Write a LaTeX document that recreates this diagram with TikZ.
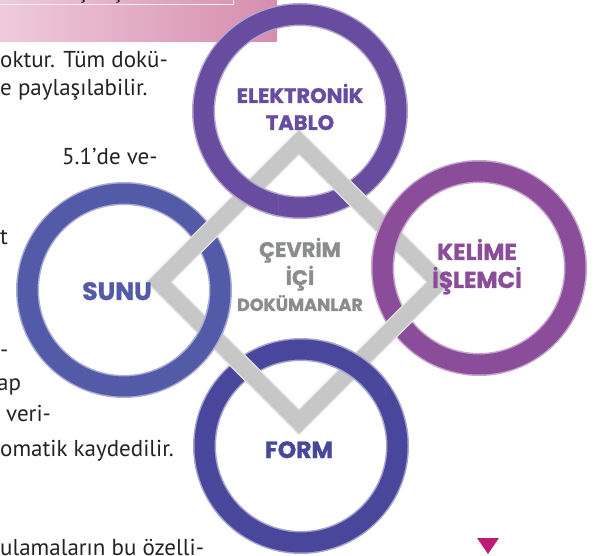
\documentclass[tikz,border=0pt]{standalone}
\usepackage{fontspec}
\setmainfont{PT Sans}
\newfontfamily\baslikfont{Poppins}[BoldFeatures={FakeBold=1.3}]

\definecolor{tablorenk}{HTML}{674C9F}
\definecolor{kelimerenk}{HTML}{8B4C9A}
\definecolor{sunurenk}{HTML}{535AA7}
\definecolor{formrenk}{HTML}{49479C}
\definecolor{bantrenk}{HTML}{C6C7C6}
\definecolor{bantkenar}{HTML}{E2E3E2}
\definecolor{merkezrenk}{HTML}{8B8D8D}
\definecolor{metinrenk}{HTML}{262223}
\definecolor{pembe1}{HTML}{EFCADC}
\definecolor{pembe2}{HTML}{D68DAE}
\definecolor{ucgenrenk}{HTML}{BD1A77}

\tikzset{
    halka/.style={circle, minimum size=193pt, inner sep=0pt, draw=#1!50!white, double=#1, double distance=20pt, line width=1.5pt},
    bant/.style={draw=bantkenar, double=bantrenk, double distance=16pt, line width=1.5pt, line join=miter},
    etiket/.style 2 args={anchor=base, inner sep=0pt, text=#1, font=\baslikfont\bfseries\fontsize{#2}{#2}\selectfont},
    metin/.style={anchor=base west, inner sep=0pt, text=metinrenk, font=\fontsize{23}{27}\selectfont}
}

\begin{document}
\begin{tikzpicture}[x=1pt, y=-1pt]
    % Sayfa sinirlari
    \useasboundingbox (0,0) rectangle (595,556);
    \clip (0,0) rectangle (595,556);

    % Pembe baslik seridi (sayfanin ust kismi)
    \shade[left color=pembe1, right color=pembe2] (0,0) rectangle (277,42);
    \draw[white!70!pembe1, line width=0.8pt] (-5,-5) rectangle (233,4);
    \node[metin, anchor=base] (cedilla1) at (83,-1) {ş};
    \node[metin, anchor=base] (cedilla2) at (118,-1) {ş};

    % Diyagramin solundaki sayfa metni
    \foreach \satir/\x/\y [count=\i] in {
        oktur. Tüm dokü-/0/68, e paylaşılabilir./0/96, 5.1’de ve-/62/165,
        t/0/245, -/0/358, ap/-3/391, veri-/6/421, omatik kaydedilir./0/456,
        ulamaların bu özelli-/0/555
    } {
        \node[metin] (satir\i) at (\x,\y) {\satir};
    }

    % Dort halka (yazilar en sonda)
    \node[halka=tablorenk] (tablo) at (300,111) {};
    \node[halka=kelimerenk] (kelime) at (479,268) {};
    \node[halka=sunurenk] (sunu) at (124,290) {};
    \node[halka=formrenk] (form) at (301,446) {};

    % Gri bant
    \coordinate (ust) at (299,142);
    \coordinate (sol) at (159,282);
    \coordinate (alt) at (299,422);
    \coordinate (sag) at (439,282);
    \draw[bant] (ust) -- (sol) -- (alt) -- (sag) -- cycle;

    % Halkanin bandin ustunden gectigi yerler
    \foreach \halka/\renk/\x/\y in {tablo/tablorenk/248/193, sunu/sunurenk/210/333, form/formrenk/355/366, kelime/kelimerenk/389/232} {
        \begin{scope}
            \clip (\x-30,\y-30) rectangle (\x+30,\y+30);
            \draw[halka=\renk] (\halka.center) circle (96.5);
        \end{scope}
    }

    % Halka yazilari
    \node[etiket={tablorenk}{21}] (elektronik) at (300,103) {ELEKTRONİK};
    \node[etiket={tablorenk}{21}] (tablo-yazi) at (300,130) {TABLO};
    \node[etiket={kelimerenk}{23}] (kelime-yazi) at (477,260) {KELİME};
    \node[etiket={kelimerenk}{23}] (islemci) at (477,288) {İŞLEMCİ};
    \node[etiket={sunurenk}{25}] (sunu-yazi) at (117,300) {SUNU};
    \node[etiket={formrenk}{23.5}] (form-yazi) at (299,458) {FORM};

    % Ortadaki yazi
    \node[etiket={merkezrenk}{21}] (cevrim) at (300,257) {ÇEVRİM};
    \node[etiket={merkezrenk}{21}] (ici) at (300,285) {İÇİ};
    \node[etiket={merkezrenk}{17.5}] (dokumanlar) at (300,311) {DOKÜMANLAR};

    % Sag alttaki ucgen
    \fill[ucgenrenk] (477,538) -- (499,538) -- (488,554) -- cycle;
\end{tikzpicture}
\end{document}
